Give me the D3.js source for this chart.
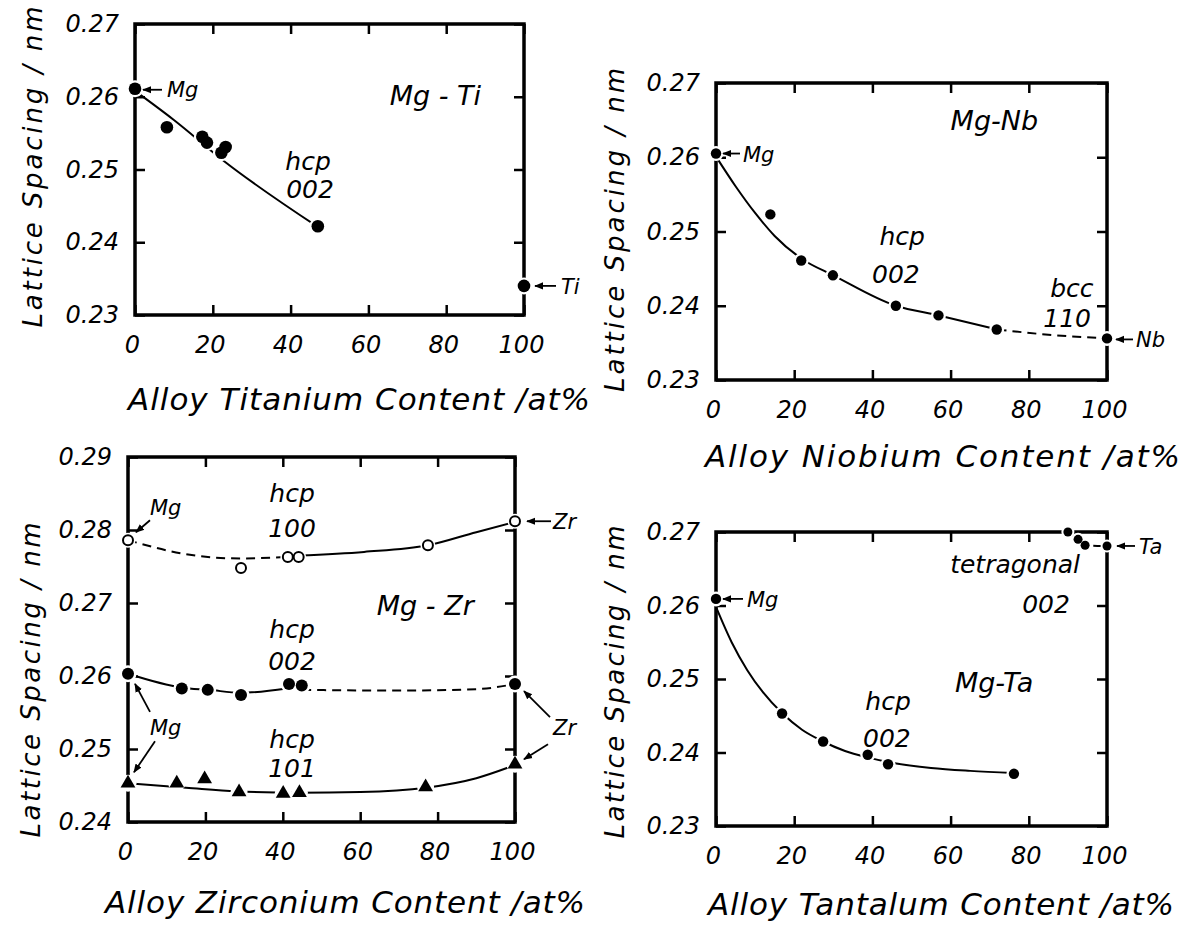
<!DOCTYPE html>
<meta charset="utf-8">
<style>
  body { margin: 0; background: #fff; }
  svg text { font-family: "DejaVu Sans", sans-serif; font-style: italic; fill: #000; }
  .tick line { stroke: #000; stroke-width: 2.5; }
  .frame { fill: none; stroke: #000; stroke-width: 3.5; }
</style>
<script src="https://d3js.org/d3.v7.min.js"></script>
<body></body>
<script>
// ---- data ----
var xTicks = [0, 20, 40, 60, 80, 100];
var yTicksA = [0.23, 0.24, 0.25, 0.26, 0.27];
var yTicksZr = [0.24, 0.25, 0.26, 0.27, 0.28, 0.29];
var yTitle = "Lattice Spacing / nm";
var xTitles = ["Alloy Titanium Content /at%", "Alloy Niobium Content /at%",
               "Alloy Zirconium Content /at%", "Alloy Tantalum Content /at%"];
var panelNames = ["Mg - Ti", "Mg-Nb", "Mg - Zr", "Mg-Ta"];

// Mg-Ti, hcp 002
var tiX = [0, 8.2, 17.3, 18.5, 22.2, 23.3, 47, 100];
var tiY = [0.2611, 0.2558, 0.2545, 0.2537, 0.2523, 0.2531, 0.2422, 0.2340];
var tiLineX = [0, 10, 23, 47];
var tiLineY = [0.2608, 0.2568, 0.2511, 0.2421];

// Mg-Nb, hcp 002 / bcc 110
var nbX = [0, 13.9, 21.8, 29.9, 46, 56.9, 71.8, 100];
var nbY = [0.2605, 0.2523, 0.2461, 0.2441, 0.2400, 0.2387, 0.2368, 0.2356];
var nbCurveX = [0, 5, 10, 15, 22, 30, 46, 57, 72];
var nbCurveY = [0.2601, 0.2561, 0.2525, 0.2494, 0.2463, 0.2441, 0.2400, 0.2387, 0.2368];
var nbDashX = [72, 85, 100];
var nbDashY = [0.2368, 0.2361, 0.2356];

// Mg-Zr, hcp 100 (open circles)
var zr100X = [0, 29.2, 41.3, 44.1, 77.5, 100];
var zr100Y = [0.2786, 0.2748, 0.2763, 0.2763, 0.2779, 0.2812];
var zr100DashX = [0, 16, 29, 41];
var zr100DashY = [0.2786, 0.2766, 0.2761, 0.2763];
var zr100SolidX = [44, 61, 77.5, 90, 100];
var zr100SolidY = [0.2765, 0.2770, 0.2779, 0.2797, 0.2811];
// hcp 002 (filled circles)
var zr002X = [0, 13.9, 20.6, 29.2, 41.6, 44.9, 100];
var zr002Y = [0.2603, 0.2583, 0.2581, 0.2574, 0.2589, 0.2587, 0.2589];
var zr002SolidX = [0, 14, 21, 29, 41];
var zr002SolidY = [0.2603, 0.2584, 0.2581, 0.2577, 0.2583];
var zr002DashX = [45, 70, 90, 100];
var zr002DashY = [0.2581, 0.2580, 0.2582, 0.2589];
// hcp 101 (triangles)
var zr101X = [0, 12.6, 19.8, 28.7, 40.1, 44.3, 76.9, 100];
var zr101Y = [0.2453, 0.2453, 0.2459, 0.2441, 0.2439, 0.2440, 0.2448, 0.2479];
var zr101CurveX = [0, 15, 28, 44, 60, 77, 90, 100];
var zr101CurveY = [0.2453, 0.2447, 0.2442, 0.2440, 0.2441, 0.2447, 0.2460, 0.2478];

// Mg-Ta, hcp 002 and tetragonal 002
var taX = [0, 16.9, 27.4, 38.8, 44, 76.2];
var taY = [0.2609, 0.2453, 0.2415, 0.2397, 0.2384, 0.2371];
var taCurveX = [0, 4, 8, 12, 17, 22, 27, 33, 39, 44, 55, 65, 76];
var taCurveY = [0.2598, 0.2550, 0.2512, 0.2482, 0.2453, 0.2431, 0.2416, 0.2402, 0.2393, 0.2387, 0.2379, 0.2375, 0.2372];
var tetX = [90, 92.6, 94.4, 100];
var tetY = [0.2700, 0.2690, 0.2682, 0.2681];

// ---- drawing ----
var svg = d3.select("body").append("svg")
    .attr("width", 1189)
    .attr("height", 925);

svg.append("defs").append("marker")
    .attr("id", "ah")
    .attr("viewBox", "0 0 10 10")
    .attr("refX", 9).attr("refY", 5)
    .attr("markerWidth", 5).attr("markerHeight", 5)
    .attr("orient", "auto")
  .append("path")
    .attr("d", "M0,1 L10,5 L0,9 Z")
    .attr("fill", "#000");

function zip(xs, ys) {
    return xs.map(function(v, i) { return [v, ys[i]]; });
}

var drawPanel = function(p) {
    var x = d3.scaleLinear().domain([0, 100]).range([p.x0, p.x1]);
    var y = d3.scaleLinear().domain([p.yTicks[0], p.yTicks[p.yTicks.length - 1]]).range([p.y1, p.y0]);
    var g = svg.append("g");

    var bottom = g.append("g").attr("transform", "translate(0," + p.y1 + ")")
        .call(d3.axisBottom(x).tickValues(xTicks).tickSize(-10).tickPadding(21).tickFormat(d3.format("d")));
    var left = g.append("g").attr("transform", "translate(" + p.x0 + ",0)")
        .call(d3.axisLeft(y).tickValues(p.yTicks).tickSize(-10).tickPadding(16).tickFormat(d3.format(".2f")));
    g.append("g").attr("transform", "translate(0," + p.y0 + ")")
        .call(d3.axisTop(x).tickValues(xTicks).tickSize(-10).tickFormat(""));
    g.append("g").attr("transform", "translate(" + p.x1 + ",0)")
        .call(d3.axisRight(y).tickValues(p.yTicks).tickSize(-10).tickFormat(""));
    g.selectAll(".domain").remove();
    g.selectAll("g").attr("font-family", null).attr("font-size", null);
    bottom.selectAll("text").style("font-size", "24px").attr("dx", -3);
    left.selectAll("text").style("font-size", "24px");

    g.append("rect").attr("class", "frame")
        .attr("x", p.x0).attr("y", p.y0)
        .attr("width", p.x1 - p.x0).attr("height", p.y1 - p.y0);

    // axis titles
    g.append("text")
        .attr("transform", "translate(" + p.yt[0] + "," + p.yt[1] + ") rotate(-90)")
        .attr("text-anchor", "middle")
        .attr("textLength", p.yt[2]).attr("lengthAdjust", "spacing")
        .style("font-size", "26px")
        .text(yTitle);
    g.append("text")
        .attr("x", p.xt[0]).attr("y", p.xt[1])
        .attr("textLength", p.xt[2]).attr("lengthAdjust", "spacing")
        .style("font-size", "31px")
        .text(p.xTitle);

    return { g: g, x: x, y: y };
};

var line = function(P, xs, ys, dashed) {
    var l = d3.line()
        .x(function(d) { return P.x(d[0]); })
        .y(function(d) { return P.y(d[1]); })
        .curve(d3.curveMonotoneX);
    P.g.append("path")
        .attr("d", l(zip(xs, ys)))
        .attr("fill", "none")
        .attr("stroke", "#000")
        .attr("stroke-width", 2)
        .attr("stroke-dasharray", dashed ? "9,6" : null);
};

var halos = function(P, xs, ys, r) {
    P.g.selectAll(null).data(zip(xs, ys)).enter().append("circle")
        .attr("cx", function(d) { return P.x(d[0]); })
        .attr("cy", function(d) { return P.y(d[1]); })
        .attr("r", r)
        .attr("fill", "#fff");
};

var dots = function(P, xs, ys, kind, r) {
    var sel = P.g.selectAll(null).data(zip(xs, ys)).enter();
    if (kind == "tri") {
        sel.append("path")
            .attr("transform", function(d) { return "translate(" + P.x(d[0]) + "," + P.y(d[1]) + ")"; })
            .attr("d", d3.symbol(d3.symbolTriangle, 95))
            .attr("fill", "#000");
    } else {
        sel.append("circle")
            .attr("cx", function(d) { return P.x(d[0]); })
            .attr("cy", function(d) { return P.y(d[1]); })
            .attr("r", r)
            .attr("fill", kind == "open" ? "#fff" : "#000")
            .attr("stroke", kind == "open" ? "#000" : "none")
            .attr("stroke-width", 2);
    }
};

var label = function(P, xv, yv, txt, size, anchor) {
    P.g.append("text")
        .attr("x", P.x(xv)).attr("y", P.y(yv))
        .attr("text-anchor", anchor || "middle")
        .style("font-size", size + "px")
        .text(txt);
};

// arrow label pointing to a data point; offsets in px
var tag = function(P, xv, yv, txt, tx, ty, arrows) {
    var px = P.x(xv), py = P.y(yv);
    P.g.append("text")
        .attr("x", px + tx).attr("y", py + ty)
        .style("font-size", "21px")
        .text(txt);
    arrows.forEach(function(a) {
        var qx = a[4] === undefined ? px : P.x(a[4]);
        var qy = a[5] === undefined ? py : P.y(a[5]);
        P.g.append("line")
            .attr("x1", qx + a[0]).attr("y1", qy + a[1])
            .attr("x2", qx + a[2]).attr("y2", qy + a[3])
            .attr("stroke", "#000").attr("stroke-width", 1.8)
            .attr("marker-end", "url(#ah)");
    });
};

// ---- panel 1 : Mg-Ti ----
var P1 = drawPanel({ x0: 135, x1: 524, y0: 24, y1: 315, yTicks: yTicksA,
    yt: [42, 167, 321], xt: [128, 410, 462], xTitle: xTitles[0] });
line(P1, tiLineX, tiLineY, false);
halos(P1, tiX, tiY, 8.5);
dots(P1, tiX, tiY, "filled", 6.3);
label(P1, 65.5, 0.2589, panelNames[0], 27, "start");
label(P1, 44.5, 0.2499, "hcp", 25);
label(P1, 45, 0.2461, "002", 25);
tag(P1, 0, tiY[0], "Mg", 32, 8, [[27, 1, 8, 1]]);
tag(P1, 100, tiY[7], "Ti", 37, 8, [[32, 0, 11, 0]]);

// ---- panel 2 : Mg-Nb ----
var P2 = drawPanel({ x0: 716, x1: 1107, y0: 83, y1: 380, yTicks: yTicksA,
    yt: [624, 230, 324], xt: [705, 467, 475], xTitle: xTitles[1] });
line(P2, nbCurveX, nbCurveY, false);
line(P2, nbDashX, nbDashY, true);
halos(P2, nbX, nbY, 7.5);
dots(P2, nbX, nbY, "filled", 5.2);
label(P2, 60, 0.2637, panelNames[1], 27, "start");
label(P2, 47.6, 0.2482, "hcp", 25);
label(P2, 46, 0.2431, "002", 25);
label(P2, 91, 0.2412, "bcc", 25);
label(P2, 89.8, 0.2371, "110", 25);
tag(P2, 0, nbY[0], "Mg", 27, 8, [[24, 0, 7, 0]]);
tag(P2, 100, nbY[7], "Nb", 29, 9, [[26, 1, 9, 1]]);

// ---- panel 3 : Mg-Zr ----
var P3 = drawPanel({ x0: 128, x1: 515, y0: 457, y1: 822, yTicks: yTicksZr,
    yt: [40, 680, 315], xt: [105, 913, 480], xTitle: xTitles[2] });
line(P3, zr100DashX, zr100DashY, true);
line(P3, zr100SolidX, zr100SolidY, false);
line(P3, zr002SolidX, zr002SolidY, false);
line(P3, zr002DashX, zr002DashY, true);
line(P3, zr101CurveX, zr101CurveY, false);
halos(P3, zr100X, zr100Y, 7.5);
halos(P3, zr002X, zr002Y, 8.5);
halos(P3, zr101X, zr101Y, 8.5);
dots(P3, zr100X, zr100Y, "open", 5);
dots(P3, zr002X, zr002Y, "filled", 6);
dots(P3, zr101X, zr101Y, "tri");
label(P3, 64.3, 0.2684, panelNames[2], 27, "start");
label(P3, 42.4, 0.2838, "hcp", 25);
label(P3, 42.4, 0.2790, "100", 25);
label(P3, 42.4, 0.2652, "hcp", 25);
label(P3, 42.4, 0.2608, "002", 25);
label(P3, 42.4, 0.2501, "hcp", 25);
label(P3, 42.4, 0.2462, "101", 25);
tag(P3, 0, zr100Y[0], "Mg", 22, -25, [[22, -20, 8, -8]]);
tag(P3, 100, zr100Y[5], "Zr", 38, 8, [[36, 0, 12, 0]]);
tag(P3, 0, zr002Y[0], "Mg", 22, 61, [[22, 38, 7, 10], [27, -42, 6, -11, 0, zr101Y[0]]]);
tag(P3, 100, zr002Y[6], "Zr", 38, 51, [[35, 33, 9, 7], [33, -20, 9, -5, 100, zr101Y[7]]]);

// ---- panel 4 : Mg-Ta ----
var P4 = drawPanel({ x0: 716, x1: 1107, y0: 532, y1: 826, yTicks: yTicksA,
    yt: [624, 682, 313], xt: [708, 915, 466], xTitle: xTitles[3] });
line(P4, taCurveX, taCurveY, false);
line(P4, tetX, tetY, true);
halos(P4, taX, taY, 7.5);
halos(P4, tetX, tetY, 6.5);
dots(P4, taX, taY, "filled", 5.2);
dots(P4, tetX, tetY, "filled", 4.5);
label(P4, 61.1, 0.2482, panelNames[3], 27, "start");
label(P4, 44, 0.2458, "hcp", 25);
label(P4, 43.7, 0.2407, "002", 25);
label(P4, 76.5, 0.2644, "tetragonal", 25);
label(P4, 84.4, 0.2590, "002", 25);
tag(P4, 0, taY[0], "Mg", 31, 8, [[27, 0, 7, 0]]);
tag(P4, 100, tetY[3], "Ta", 32, 8, [[28, 0, 10, 0]]);
</script>
